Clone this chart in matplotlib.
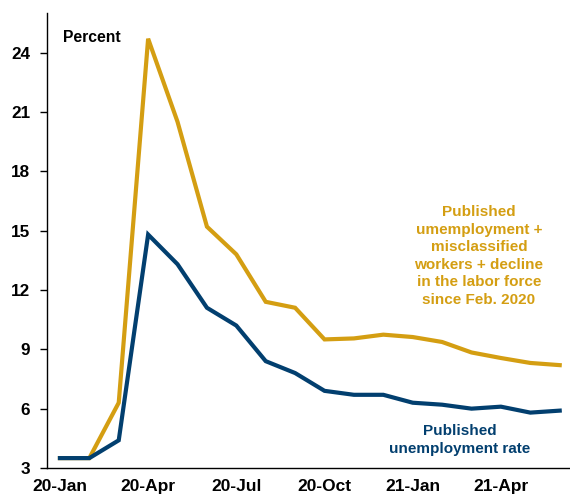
import matplotlib
matplotlib.use("Agg")
import matplotlib.pyplot as plt

plt.rcParams['font.family'] = ['Liberation Sans', 'DejaVu Sans']
plt.rcParams['font.weight'] = 'bold'

months = list(range(18))
tick_pos = [0, 3, 6, 9, 12, 15]
tick_labels = ["20-Jan", "20-Apr", "20-Jul", "20-Oct", "21-Jan", "21-Apr"]

published = [3.5, 3.5, 4.4, 14.8, 13.3, 11.1, 10.2, 8.4, 7.8, 6.9, 6.7, 6.7,
             6.3, 6.2, 6.0, 6.1, 5.8, 5.9]
adjusted = [3.5, 3.5, 6.3, 24.7, 20.5, 15.2, 13.8, 11.4, 11.1, 9.5, 9.55, 9.74,
            9.62, 9.37, 8.84, 8.56, 8.31, 8.2]

gold = '#D49E12'
blue = '#023F6F'

fig = plt.figure(figsize=(5.7, 4.96), dpi=100)
ax = fig.add_axes([47/570, 28/496, 523/570, 455/496])

ax.plot(months, adjusted, color=gold, lw=3, solid_joinstyle='miter')
ax.plot(months, published, color=blue, lw=3, solid_joinstyle='miter')

ax.set_xlim(-0.44, 17.35)
ax.set_ylim(3, 26)
ax.set_yticks([3, 6, 9, 12, 15, 18, 21, 24])
ax.set_xticks(tick_pos)
ax.set_xticklabels(tick_labels)
ax.tick_params(axis='x', length=0, pad=8, labelsize=12.5)
ax.tick_params(axis='y', length=5, width=1, direction='out', pad=7, labelsize=12.3)
for lab in ax.get_xticklabels() + ax.get_yticklabels():
    lab.set_fontweight('bold')
for s in ['top', 'right']:
    ax.spines[s].set_visible(False)
for s in ['left', 'bottom']:
    ax.spines[s].set_linewidth(1)
    ax.spines[s].set_color('black')

fig.text(63/570, 1 - 38/496, "Percent", fontsize=11.3, fontweight='bold', va='center', ha='left')
fig.text(479/570, 1 - 256/496,
         "Published\numemployment +\nmisclassified\nworkers + decline\nin the labor force\nsince Feb. 2020",
         color=gold, fontsize=11, fontweight='bold', ha='center', va='center', linespacing=1.32)
fig.text(460/570, 1 - 440/496, "Published\nunemployment rate",
         color=blue, fontsize=11, fontweight='bold', ha='center', va='center', linespacing=1.35)

fig.savefig('out.png', dpi=100)
